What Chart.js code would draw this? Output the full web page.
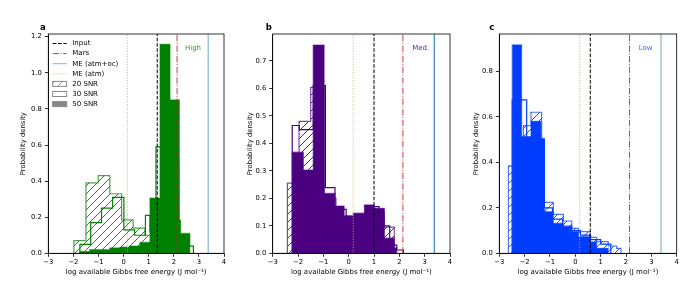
<!DOCTYPE html>
<html><head><meta charset="utf-8">
<script src="https://cdn.jsdelivr.net/npm/chart.js@4.4.1/dist/chart.umd.min.js"></script>
<style>
html,body{margin:0;padding:0;background:#fff;width:700px;height:300px;overflow:hidden}
canvas{position:absolute;top:0}
</style></head><body>
<canvas id="ca" width="235" height="300" style="left:0px"></canvas>
<canvas id="cb" width="230" height="300" style="left:230px"></canvas>
<canvas id="cc" width="240" height="300" style="left:460px"></canvas>
<script>
// ---- shared labels / reference values ----
const xTicks = [-3, -2, -1, 0, 1, 2, 3, 4];
const yTicksA = [0, 0.2, 0.4, 0.6, 0.8, 1.0, 1.2];
const yTicksB = [0, 0.1, 0.2, 0.3, 0.4, 0.5, 0.6, 0.7];
const yTicksC = [0, 0.2, 0.4, 0.6, 0.8];
const yMax = [1.215, 0.798, 0.964];
const panelLetters = ['a', 'b', 'c'];
const regimeLabels = ['High', 'Med.', 'Low'];
const inputLine = [1.34, 1.0, 0.59];
const marsLine = [2.13, 2.14, 2.14];
const meAtmOcLine = [3.37, 3.38, 3.38];
const meAtmLine = [0.15, 0.18, 0.17];
const legendLabels = ['Input', 'Mars', 'ME (atm+oc)', 'ME (atm)', '20 SNR', '30 SNR', '50 SNR'];
const xTitle = 'log available Gibbs free energy (J mol\u207B\u00B9)';
const yTitle = 'Probability density';

// ---- panel a (High) ----
const aEdges20 = [-1.98, -1.5, -1.01, -0.55, -0.08, 0.38, 0.85, 1.3, 1.75, 2.2, 2.6];
const aHeights20 = [0.07, 0.39, 0.43, 0.33, 0.185, 0.14, 0.1, 0.25, 0.5, 0.08];
const aEdges30 = [-1.74, -1.31, -0.88, -0.44, 0.01, 0.44, 0.87, 1.05, 1.29, 1.74, 2.18, 2.62, 2.78];
const aHeights30 = [0.05, 0.17, 0.25, 0.31, 0.13, 0.1, 0.21, 0.12, 0.59, 0.8, 0.1, 0.04];
const aEdges50 = [-1.75, -1.35, -0.95, -0.55, -0.15, 0.25, 0.65, 1.05, 1.45, 1.85, 2.22, 2.27, 2.64];
const aHeights50 = [0.01, 0.02, 0.02, 0.03, 0.035, 0.04, 0.06, 0.306, 1.158, 0.85, 0.185, 0.11];

// ---- panel b (Med.) ----
const bEdges20 = [-2.42, -1.96, -1.5, -0.96, -0.5, -0.05, 0.4, 0.85, 1.41, 1.8];
const bHeights20 = [0.255, 0.48, 0.604, 0.2, 0.13, 0.12, 0.13, 0.15, 0.095];
const bEdges30 = [-2.23, -1.95, -1.4, -0.92, -0.54, -0.1, 0.35, 0.8, 1.2, 1.62, 1.9, 2.16];
const bHeights30 = [0.465, 0.45, 0.61, 0.239, 0.16, 0.13, 0.14, 0.17, 0.1, 0.03, 0.012];
const bEdges50 = [-2.23, -1.79, -1.4, -0.97, -0.54, -0.18, 0.18, 0.62, 1.01, 1.41, 1.8, 1.9];
const bHeights50 = [0.368, 0.303, 0.758, 0.218, 0.172, 0.137, 0.146, 0.176, 0.164, 0.055, 0.02];

// ---- panel c (Low) ----
const cEdges20 = [-2.64, -2.49, -2.05, -1.75, -1.33, -0.87, -0.47, -0.14, 0.12, 0.58, 0.84, 1.3, 1.63, 1.8];
const cHeights20 = [0.384, 0.38, 0.561, 0.62, 0.224, 0.171, 0.142, 0.11, 0.095, 0.07, 0.051, 0.032, 0.022];
const cEdges30 = [-2.49, -1.92, -1.6, -1.22, -0.9, -0.5, -0.15, 0.2, 0.6, 1.0, 1.4];
const cHeights30 = [0.674, 0.5, 0.5, 0.2, 0.15, 0.12, 0.1, 0.08, 0.06, 0.04];
const cEdges50 = [-2.49, -2.12, -1.75, -1.36, -1.22, -0.87, -0.47, -0.14, 0.12, 0.58, 0.84, 1.3];
const cHeights50 = [0.916, 0.513, 0.58, 0.505, 0.183, 0.132, 0.117, 0.095, 0.073, 0.05, 0.022];

// ---- helpers ----
const FONT = "'DejaVu Sans', sans-serif";
function rgba(hex, a) {
  const n = parseInt(hex.slice(1), 16);
  return `rgba(${(n >> 16) & 255},${(n >> 8) & 255},${n & 255},${a})`;
}
function hatch(color) {
  const c = document.createElement('canvas'); c.width = 8; c.height = 8;
  const g = c.getContext('2d'); g.strokeStyle = color; g.lineWidth = 0.9;
  g.beginPath();
  g.moveTo(0, 8); g.lineTo(8, 0);
  g.moveTo(-2, 2); g.lineTo(2, -2);
  g.moveTo(6, 10); g.lineTo(10, 6);
  g.stroke();
  return g.createPattern(c, 'repeat');
}
function steps(edges, heights) {
  const pts = [{x: edges[0], y: 0}];
  for (let i = 0; i < heights.length; i++) pts.push({x: edges[i], y: heights[i]});
  pts.push({x: edges[edges.length - 1], y: heights[heights.length - 1]});
  pts.push({x: edges[edges.length - 1], y: 0});
  return pts;
}
const fmtX = v => (v < 0 ? '\u2212' + Math.abs(v) : String(v));

const panels = [
  {id: 'ca', color: '#008000', labelColor: '#2ca02c', e20: aEdges20, h20: aHeights20, e30: aEdges30, h30: aHeights30, e50: aEdges50, h50: aHeights50, yTicks: yTicksA, yW: 48.3, padR: 11, titleOff: 19.4, letterX: 40, labelX: 193, legend: true, blueA: 0.55},
  {id: 'cb', color: '#4b0082', labelColor: '#5b2a8e', e20: bEdges20, h20: bHeights20, e30: bEdges30, h30: bHeights30, e50: bEdges50, h50: bHeights50, yTicks: yTicksB, yW: 42.7, padR: 10, titleOff: 15.9, letterX: 35.7, labelX: 190.7, legend: false, blueA: 0.9},
  {id: 'cc', color: '#003dff', labelColor: '#3a62ff', e20: cEdges20, h20: cHeights20, e30: cEdges30, h30: cHeights30, e50: cEdges50, h50: cHeights50, yTicks: yTicksC, yW: 39.3, padR: 23.3, titleOff: 12.4, letterX: 29.3, labelX: 185.7, legend: false, blueA: 0.55}
];

const DASH = [3.7, 1.6], DASHDOT = [6.4, 1.6, 1, 1.6], DOT = [1, 1.65];
const MARS = 'rgba(190,30,30,0.85)', ORANGE = 'rgba(255,165,0,0.9)';

function drawLegend(ctx, p) {
  const x0 = 52.7, x1 = 66.7, tx = 72.3;
  ctx.save();
  ctx.font = `7px ${FONT}`; ctx.textBaseline = 'middle'; ctx.fillStyle = '#000';
  legendLabels.forEach((lab, i) => {
    const y = 43.5 + i * 10.1;
    ctx.save();
    ctx.lineWidth = 1;
    if (i < 4) {
      const st = [['#000', DASH], [MARS, DASHDOT], [rgba('#1f77b4', 0.55), []], [ORANGE, DOT]][i];
      ctx.strokeStyle = st[0]; ctx.setLineDash(st[1]);
      ctx.beginPath(); ctx.moveTo(x0, y); ctx.lineTo(x1, y); ctx.stroke();
    } else {
      ctx.strokeStyle = '#888';
      if (i === 4) ctx.fillStyle = hatch('#888');
      else if (i === 5) ctx.fillStyle = '#fff';
      else ctx.fillStyle = '#888';
      ctx.fillRect(x0, y - 2.5, x1 - x0, 5);
      ctx.strokeRect(x0, y - 2.5, x1 - x0, 5);
    }
    ctx.restore();
    ctx.fillText(lab, tx, y);
  });
  ctx.restore();
}

panels.forEach((p, k) => {
  const datasets = [
    {data: steps(p.e20, p.h20), stepped: 'before', borderColor: rgba(p.color, 0.7), borderWidth: 1.2,
     backgroundColor: hatch(p.color), fill: 'origin', order: 3},
    {data: steps(p.e30, p.h30), stepped: 'before', borderColor: p.color, borderWidth: 1.2,
     fill: false, order: 2},
    {data: steps(p.e50, p.h50), stepped: 'before', borderColor: rgba(p.color, 0.55), borderWidth: 1.2,
     backgroundColor: p.color, fill: 'origin', order: 1},
    {data: [{x: inputLine[k], y: 0}, {x: inputLine[k], y: yMax[k]}], borderColor: '#000', borderDash: DASH, borderWidth: 1, fill: false, order: 0},
    {data: [{x: marsLine[k], y: 0}, {x: marsLine[k], y: yMax[k]}], borderColor: MARS, borderDash: DASHDOT, borderWidth: 1, fill: false, order: 0},
    {data: [{x: meAtmOcLine[k], y: 0}, {x: meAtmOcLine[k], y: yMax[k]}], borderColor: rgba('#1f77b4', p.blueA), borderWidth: 1.2, fill: false, order: 0},
    {data: [{x: meAtmLine[k], y: 0}, {x: meAtmLine[k], y: yMax[k]}], borderColor: ORANGE, borderDash: DOT, borderWidth: 1, fill: false, order: 0}
  ];
  const deco = {
    id: 'deco' + k,
    afterDraw(chart) {
      const {ctx, chartArea: ca} = chart;
      ctx.save();
      ctx.strokeStyle = '#000'; ctx.lineWidth = 0.8;
      ctx.strokeRect(ca.left, ca.top, ca.right - ca.left, ca.bottom - ca.top);
      ctx.font = `bold 8.5px ${FONT}`; ctx.fillStyle = '#000'; ctx.textBaseline = 'alphabetic';
      ctx.fillText(panelLetters[k], p.letterX, 29.5);
      ctx.font = `7px ${FONT}`; ctx.fillStyle = p.labelColor; ctx.textAlign = 'center'; ctx.textBaseline = 'middle';
      ctx.fillText(regimeLabels[k], p.labelX, 48);
      ctx.restore();
      if (p.legend) drawLegend(ctx, p);
    }
  };
  new Chart(document.getElementById(p.id), {
    type: 'line',
    data: {datasets},
    options: {
      responsive: false, animation: false, events: [],
      layout: {padding: {left: 0, right: p.padR, top: 34, bottom: 0}},
      plugins: {legend: {display: false}, tooltip: {enabled: false}},
      elements: {point: {radius: 0}, line: {tension: 0}},
      scales: {
        x: {
          type: 'linear', min: -3, max: 4,
          afterBuildTicks: s => { s.ticks = xTicks.map(v => ({value: v})); },
          ticks: {font: {family: FONT, size: 6.8}, color: '#000', padding: 1, maxRotation: 0, autoSkip: false, callback: fmtX},
          grid: {drawOnChartArea: false, drawTicks: true, tickLength: 3.5, color: '#000', lineWidth: 0.8},
          border: {display: true, color: '#000', width: 0.8},
          title: {display: true, text: xTitle, font: {family: FONT, size: 7}, color: '#000', padding: {top: 0, bottom: 24}},
          afterFit: s => { s.height = 46.7; }
        },
        y: {
          type: 'linear', min: 0, max: yMax[k],
          afterBuildTicks: s => { s.ticks = p.yTicks.map(v => ({value: v})); },
          ticks: {font: {family: FONT, size: 6.8}, color: '#000', padding: 3, autoSkip: false, callback: v => v.toFixed(1)},
          grid: {drawOnChartArea: false, drawTicks: true, tickLength: 3.5, color: '#000', lineWidth: 0.8},
          border: {display: true, color: '#000', width: 0.8},
          title: {display: true, text: yTitle, font: {family: FONT, size: 6.8}, color: '#000', padding: {top: p.titleOff, bottom: 0}},
          afterFit: s => { s.width = p.yW; }
        }
      }
    },
    plugins: [deco]
  });
});
</script>
</body></html>
